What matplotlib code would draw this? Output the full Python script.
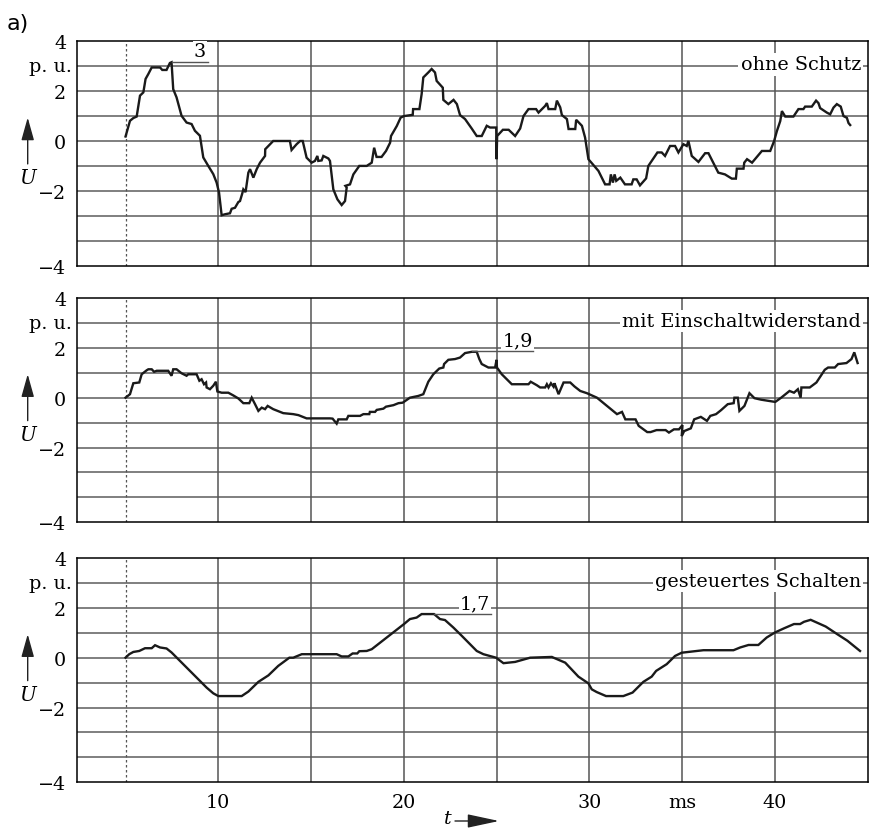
import matplotlib
matplotlib.use("Agg")
import matplotlib.pyplot as plt
import matplotlib.transforms as mtransforms

# ---------------- data ----------------
t_ohne = [5.00, 5.24, 5.42, 5.60, 5.78, 5.96, 6.08, 6.23, 6.41, 6.86, 6.98, 7.21, 7.39, 7.48, 7.57, 7.75,
          8.02, 8.29, 8.56, 8.74, 9.01, 9.19, 9.46, 9.73, 9.91, 10.04, 10.18, 10.36, 10.63, 10.72, 10.90,
          11.08, 11.17, 11.29, 11.35, 11.47, 11.62, 11.71, 11.89, 12.07, 12.25, 12.52, 12.53, 12.70, 12.96,
          13.86, 13.95, 14.22, 14.41, 14.55, 14.76, 15.03, 15.21, 15.34, 15.39, 15.57, 15.66, 15.93, 16.02,
          16.20, 16.42, 16.65, 16.83, 16.92, 16.85, 17.10, 17.28, 17.60, 18.00, 18.27, 18.40, 18.53, 18.80,
          19.04, 19.26, 19.31, 19.62, 19.83, 20.01, 20.48, 20.50, 20.84, 20.96, 21.05, 21.32, 21.50, 21.68,
          21.77, 22.10, 22.13, 22.40, 22.68, 22.86, 23.03, 23.30, 23.66, 23.93, 24.20, 24.47, 24.65, 24.98,
          25.00, 25.03, 25.34, 25.65, 26.00, 26.27, 26.45, 26.72, 27.13, 27.26, 27.62, 27.71, 27.80, 28.16,
          28.25, 28.43, 28.52, 28.79, 28.88, 29.24, 29.29, 29.60, 29.77, 29.95, 30.03, 30.49, 30.85, 31.09,
          31.16, 31.27, 31.36, 31.45, 31.67, 31.92, 32.28, 32.37, 32.55, 32.73, 33.06, 33.18, 33.67, 33.90,
          34.08, 34.35, 34.62, 34.80, 35.07, 35.25, 35.34, 35.52, 35.88, 36.24, 36.42, 36.95, 37.31, 37.68,
          37.90, 37.95, 38.31, 38.35, 38.50, 38.77, 39.30, 39.75, 39.96, 40.11, 40.29, 40.38, 40.56, 41.00,
          41.27, 41.54, 41.63, 41.99, 42.22, 42.35, 42.44, 42.80, 42.98, 43.16, 43.34, 43.55, 43.70, 43.88,
          43.97, 44.06]
u_ohne = [0.18, 0.81, 0.92, 0.98, 1.82, 1.95, 2.49, 2.69, 2.95, 2.95, 2.85, 2.85, 3.13, 3.16, 2.08, 1.75,
          1.01, 0.74, 0.68, 0.41, 0.21, -0.66, -1.00, -1.33, -1.67, -2.07, -2.98, -2.94, -2.90, -2.72, -2.68,
          -2.45, -2.41, -2.11, -1.94, -2.05, -1.27, -1.13, -1.47, -1.13, -0.87, -0.60, -0.33, -0.20, 0.00,
          0.00, -0.36, -0.13, 0.00, 0.00, -0.67, -0.87, -0.80, -0.60, -0.80, -0.78, -0.60, -0.70, -0.80,
          -1.94, -2.34, -2.57, -2.41, -1.87, -1.80, -1.74, -1.34, -1.00, -1.00, -0.87, -0.27, -0.64, -0.64,
          -0.40, -0.07, 0.20, 0.60, 0.94, 1.00, 1.05, 1.28, 1.28, 1.88, 2.55, 2.75, 2.89, 2.75,
          2.41, 2.14, 1.65, 1.48, 1.65, 1.48, 1.04, 0.88, 0.50, 0.20, 0.20, 0.61, 0.54, 0.54,
          -0.73, 0.20, 0.45, 0.45, 0.20, 0.50, 1.00, 1.28, 1.28, 1.14, 1.41, 1.52, 1.28, 1.28,
          1.62, 1.35, 1.04, 0.88, 0.48, 0.48, 0.85, 0.61, 0.14, -0.73, -0.80, -1.20, -1.74, -1.74,
          -1.34, -1.67, -1.34, -1.60, -1.47, -1.74, -1.74, -1.54, -1.54, -1.78, -1.50, -1.00, -0.46, -0.46,
          -0.60, -0.20, -0.20, -0.46, -0.13, -0.20, 0.00, -0.60, -0.84, -0.49, -0.49, -1.27, -1.34, -1.51,
          -1.51, -1.11, -1.11, -0.87, -0.73, -0.87, -0.40, -0.40, 0.00, 0.40, 0.80, 1.20, 0.98, 0.98,
          1.28, 1.28, 1.38, 1.38, 1.62, 1.52, 1.32, 1.14, 1.07, 1.34, 1.48, 1.38, 1.00, 0.93,
          0.72, 0.64]

t_mit = [5.00, 5.24, 5.42, 5.74, 5.87, 6.14, 6.23, 6.41, 6.54, 6.68, 7.30, 7.48, 7.57, 7.75, 8.02, 8.29,
         8.38, 8.83, 8.98, 9.10, 9.23, 9.34, 9.37, 9.55, 9.73, 9.87, 9.95, 10.18, 10.54, 10.81, 11.08,
         11.35, 11.67, 11.80, 11.98, 12.16, 12.34, 12.52, 12.66, 12.96, 13.50, 14.04, 14.32, 14.76, 16.02,
         16.16, 16.38, 16.47, 16.92, 17.01, 17.64, 17.82, 18.14, 18.17, 18.45, 18.54, 18.90, 19.04, 19.44,
         19.71, 19.94, 20.33, 20.78, 21.05, 21.23, 21.32, 21.59, 21.91, 22.13, 22.17, 22.40, 22.76, 23.03,
         23.30, 23.66, 23.93, 24.07, 24.20, 24.56, 24.92, 25.00, 25.02, 25.28, 25.55, 25.82, 26.72, 26.84,
         27.17, 27.35, 27.62, 27.71, 27.80, 27.93, 28.07, 28.12, 28.34, 28.61, 28.97, 29.20, 29.51, 29.87,
         30.41, 31.49, 31.76, 31.94, 32.49, 32.66, 33.12, 33.30, 33.62, 34.11, 34.29, 34.56, 34.83, 35.02,
         34.98, 35.11, 35.47, 35.65, 36.01, 36.34, 36.52, 36.83, 37.10, 37.46, 37.78, 37.82, 38.00, 38.09,
         38.36, 38.63, 38.90, 39.26, 40.02, 40.34, 40.79, 41.03, 41.24, 41.39, 41.43, 41.88, 42.24, 42.69,
         42.87, 43.23, 43.41, 43.86, 44.13, 44.28, 44.46]
u_mit = [0.00, 0.14, 0.58, 0.61, 0.94, 1.10, 1.14, 1.14, 1.04, 1.08, 1.08, 0.88, 1.14, 1.14, 0.98, 0.88,
         0.94, 0.94, 0.68, 0.74, 0.54, 0.61, 0.41, 0.34, 0.48, 0.64, 0.25, 0.20, 0.20, 0.09, -0.03,
         -0.22, -0.22, 0.00, -0.26, -0.53, -0.40, -0.46, -0.33, -0.46, -0.62, -0.66, -0.70, -0.83, -0.83,
         -0.84, -1.04, -0.87, -0.87, -0.73, -0.73, -0.66, -0.66, -0.57, -0.57, -0.49, -0.44, -0.36, -0.30,
         -0.22, -0.20, 0.00, 0.07, 0.14, 0.47, 0.64, 0.94, 1.17, 1.21, 1.35, 1.52, 1.55, 1.61,
         1.79, 1.84, 1.84, 1.55, 1.35, 1.21, 1.21, 1.52, 1.21, 0.94, 0.74, 0.54, 0.54, 0.64,
         0.50, 0.41, 0.41, 0.54, 0.41, 0.58, 0.44, 0.58, 0.14, 0.61, 0.61, 0.45, 0.27, 0.18,
         0.00, -0.66, -0.57, -0.87, -0.87, -1.13, -1.38, -1.38, -1.30, -1.30, -1.40, -1.27, -1.27, -1.10,
         -1.54, -1.34, -1.23, -0.87, -0.77, -0.93, -0.73, -0.66, -0.50, -0.26, -0.22, 0.00, 0.00, -0.53,
         -0.33, 0.18, -0.02, -0.08, -0.17, 0.00, 0.27, 0.20, 0.34, 0.00, 0.41, 0.41, 0.61, 1.12,
         1.21, 1.21, 1.35, 1.39, 1.55, 1.82, 1.39]

t_gest = [5.00, 5.20, 5.42, 5.74, 6.05, 6.41, 6.59, 6.86, 7.21, 7.48, 9.37, 9.73, 10.00, 11.26, 11.62,
          12.16, 12.70, 13.23, 13.83, 14.04, 14.50, 16.38, 16.65, 17.01, 17.24, 17.49, 17.60, 18.00, 18.27,
          20.01, 20.33, 20.69, 20.96, 21.63, 21.95, 22.22, 22.67, 23.12, 23.93, 24.29, 24.97, 25.37, 26.00,
          26.81, 27.98, 28.07, 28.70, 29.41, 29.95, 30.13, 30.40, 30.90, 31.83, 32.33, 32.91, 33.36, 33.60,
          34.17, 34.62, 34.98, 36.15, 37.77, 38.13, 38.58, 39.11, 39.56, 40.00, 40.50, 41.03, 41.36, 41.57,
          41.93, 42.74, 43.37, 43.91, 44.59]
u_gest = [0.00, 0.14, 0.23, 0.27, 0.38, 0.38, 0.50, 0.41, 0.37, 0.21, -1.20, -1.43, -1.54, -1.54, -1.36,
          -0.97, -0.71, -0.33, 0.00, 0.00, 0.14, 0.14, 0.05, 0.05, 0.17, 0.17, 0.26, 0.27, 0.34,
          1.35, 1.55, 1.61, 1.75, 1.75, 1.55, 1.51, 1.21, 0.88, 0.27, 0.14, 0.00, -0.22, -0.17,
          0.00, 0.03, 0.00, -0.20, -0.76, -1.03, -1.27, -1.38, -1.54, -1.54, -1.40, -0.97, -0.76, -0.53,
          -0.26, 0.07, 0.20, 0.30, 0.30, 0.41, 0.51, 0.51, 0.81, 1.01, 1.18, 1.35, 1.35, 1.44,
          1.52, 1.25, 0.94, 0.68, 0.27]

panel_titles = ["ohne Schutz", "mit Einschaltwiderstand", "gesteuertes Schalten"]
peak_labels = ["3", "1,9", "1,7"]
peak_level = [3.18, 1.88, 1.75]
peak_start = [7.48, 23.66, 21.63]
peak_end = [9.45, 26.96, 24.68]
peak_text_t = [9.0, 26.13, 23.84]

ytick_pos = [4, 3, 2, 0, -2, -5]
ytick_lab = ["4", "", "2", "0", "\u22122", "\u22124"]
unit_label = "p. u."
xtick_pos = [10, 20, 30, 35, 40]
xtick_lab = ["10", "20", "30", "ms", "40"]

# ---------------- figure ----------------
W, H = 869, 829
fig = plt.figure(figsize=(W / 100, H / 100), dpi=100)
SERIF = "DejaVu Serif"
FS = 13.8

tops = [42.3, 299.0, 559.0]
height_px = 224.3
left_px, right_px = 77.3, 868.0

series = [(t_ohne, u_ohne), (t_mit, u_mit), (t_gest, u_gest)]
axes = []
for i, top in enumerate(tops):
    ax = fig.add_axes([left_px / W, 1 - (top + height_px) / H,
                       (right_px - left_px) / W, height_px / H])
    axes.append(ax)
    ax.set_xlim(2.4, 45.02)
    ax.set_ylim(-5, 4)
    # grid
    for yy in range(-4, 4):
        ax.axhline(yy, color="#6a6a6a", lw=1.2, zorder=1)
    for xx in range(10, 45, 5):
        ax.axvline(xx, color="#555555", lw=1.1, zorder=1)
    ax.axvline(5, color="#555555", lw=0.9, ls=(0, (2, 2)), zorder=1)
    for s in ax.spines.values():
        s.set_color("black")
        s.set_linewidth(1.1)
    t, u = series[i]
    ax.plot(t, u, color="#1a1a1a", lw=1.7, zorder=3, solid_joinstyle="miter")

    # y ticks
    ax.set_yticks(ytick_pos)
    ax.set_yticklabels(ytick_lab, fontfamily=SERIF, fontsize=FS)
    ax.tick_params(axis="y", length=0, pad=8)
    trans = mtransforms.blended_transform_factory(fig.transFigure, ax.transData)
    ax.text(72 / W, 3, unit_label, transform=trans, ha="right", va="center",
            fontfamily=SERIF, fontsize=FS)
    if i == 2:
        ax.set_xticks(xtick_pos)
        ax.set_xticklabels(xtick_lab, fontfamily=SERIF, fontsize=FS)
        ax.tick_params(axis="x", length=0, pad=8)
    else:
        ax.set_xticks([])

    # panel title
    ax.text(44.65, 2.87, panel_titles[i], ha="right", va="baseline",
            fontfamily=SERIF, fontsize=FS, zorder=5,
            bbox=dict(boxstyle="square,pad=0.12", fc="white", ec="none"))

    # peak annotation
    ax.plot([peak_start[i], peak_end[i]], [peak_level[i], peak_level[i]],
            color="#555555", lw=1.0, zorder=4)
    ax.text(peak_text_t[i], peak_level[i] + 0.07, peak_labels[i], ha="center", va="bottom",
            fontfamily=SERIF, fontsize=FS, zorder=5,
            bbox=dict(boxstyle="square,pad=0.05", fc="white", ec="none"))

    # U arrow
    ax.annotate("", xy=(27.7 / W, 0.94), xytext=(27.7 / W, -0.92),
                xycoords=trans, textcoords=trans, annotation_clip=False,
                arrowprops=dict(arrowstyle="-|>,head_length=1.0,head_width=0.28",
                                color="#222222", lw=1.0, mutation_scale=14,
                                shrinkA=0, shrinkB=0))
    ax.text(27.7 / W, -1.47, "U", transform=trans, ha="center", va="center",
            fontfamily=SERIF, fontsize=FS + 0.5, fontstyle="italic")

# t arrow under the bottom panel
fig.text(452 / W, 1 - 819 / H, "t", ha="right", va="center",
         fontfamily=SERIF, fontsize=FS, fontstyle="italic")
fig.add_artist(matplotlib.patches.FancyArrowPatch(
    (455 / W, 1 - 822 / H), (499 / W, 1 - 822 / H), transform=fig.transFigure,
    arrowstyle="-|>,head_length=1.4,head_width=0.3", mutation_scale=14,
    color="#222222", lw=1.0, shrinkA=0, shrinkB=0))

fig.text(7 / W, 1 - 24 / H, "a)", ha="left", va="center",
         fontfamily="DejaVu Sans", fontsize=16)

fig.savefig("out.png", dpi=100)
